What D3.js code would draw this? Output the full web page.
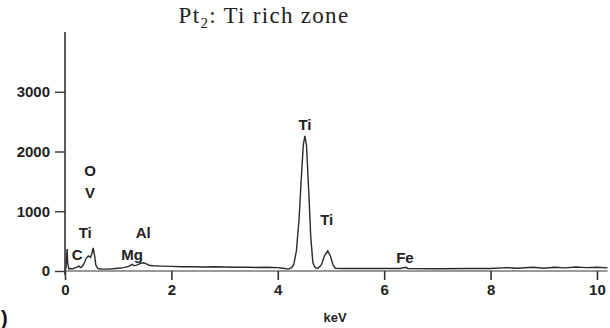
<!DOCTYPE html>
<html>
<head>
<meta charset="utf-8">
<script src="https://cdn.jsdelivr.net/npm/d3@7"></script>
<style>
  body { margin: 0; background: #fff; }
  svg { display: block; }
  .tick text { font-family: "Liberation Sans", Arial, sans-serif; font-weight: bold; font-size: 15px; fill: #222; }
  .elem { font-family: "Liberation Sans", Arial, sans-serif; font-weight: bold; font-size: 15px; fill: #222; }
</style>
</head>
<body>
<div id="chart"></div>
<script>
// EDS spectrum, energy (keV) vs counts
const energy = [0, 0.02, 0.04, 0.05, 0.07, 0.1, 0.14, 0.18, 0.22, 0.26, 0.29, 0.32, 0.36, 0.4, 0.44, 0.48, 0.5, 0.53, 0.56, 0.58, 0.62, 0.7, 0.8, 0.9, 1.0, 1.1, 1.2, 1.26, 1.3, 1.36, 1.42, 1.48, 1.52, 1.58, 1.66, 1.8, 2.0, 2.2, 2.4, 2.6, 2.8, 3.0, 3.2, 3.4, 3.6, 3.8, 4.0, 4.1, 4.2, 4.26, 4.3, 4.35, 4.4, 4.44, 4.48, 4.51, 4.54, 4.58, 4.62, 4.66, 4.7, 4.76, 4.82, 4.88, 4.94, 4.99, 5.04, 5.08, 5.2, 5.6, 6.0, 6.3, 6.4, 6.45, 7.0, 7.6, 8.0, 8.3, 8.5, 8.8, 9.0, 9.2, 9.4, 9.6, 9.8, 10.0, 10.2];
const counts = [0, 40, 350, 120, 20, 25, 20, 35, 45, 70, 40, 55, 110, 200, 235, 210, 260, 370, 220, 80, 25, 15, 15, 20, 30, 40, 60, 95, 70, 85, 110, 120, 105, 80, 70, 65, 60, 55, 55, 50, 55, 50, 45, 48, 42, 45, 40, 30, 15, 40, 90, 320, 850, 1500, 2100, 2245, 2080, 1350, 550, 120, 40, 30, 90, 240, 320, 230, 80, 30, 25, 25, 25, 25, 45, 25, 22, 25, 25, 40, 30, 45, 30, 45, 35, 50, 40, 45, 35];
const spectrum = energy.map((e, i) => ({ e: e, c: counts[i] }));

const xTicks = [0, 2, 4, 6, 8, 10];
const yTicks = [0, 1000, 2000, 3000];

// element annotations (keV, counts)
const elemNames = ["O", "V", "Ti", "C", "Al", "Mg", "Ti", "Ti", "Fe"];
const elemKeV = [0.47, 0.47, 0.38, 0.23, 1.47, 1.26, 4.51, 4.92, 6.39];
const elemCounts = [1690, 1320, 640, 270, 640, 270, 2450, 855, 220];

const width = 610, height = 328;
const svg = d3.select("#chart").append("svg")
  .attr("width", width)
  .attr("height", height);

const x = d3.scaleLinear().domain([0, 10.2]).range([65, 607.6]);
const y = d3.scaleLinear().domain([0, 4000]).range([271, 32]);

// title
const title = svg.append("text")
  .attr("x", 264)
  .attr("y", 23)
  .attr("text-anchor", "middle")
  .style("font-family", "'Liberation Serif', 'Times New Roman', serif")
  .style("font-size", "23px")
  .style("letter-spacing", "1.3px")
  .style("fill", "#222");
title.append("tspan").text("Pt");
title.append("tspan").attr("dy", 5).style("font-size", "15px").text("2");
title.append("tspan").attr("dy", -5).text(": Ti rich zone");

// zero baseline
svg.append("line")
  .attr("x1", x(0)).attr("x2", x(10.2))
  .attr("y1", y(0)).attr("y2", y(0))
  .attr("stroke", "#9a9a9a")
  .attr("stroke-width", 2);

// spectrum
const line = d3.line()
  .x(d => x(d.e))
  .y(d => y(d.c) - 1);

svg.append("path")
  .datum(spectrum)
  .attr("d", line)
  .attr("fill", "none")
  .attr("stroke", "#2a2a2a")
  .attr("stroke-width", 1.4);

// y axis
const yAxis = svg.append("g")
  .attr("transform", "translate(" + x(0) + ",0)")
  .call(d3.axisLeft(y).tickValues(yTicks).tickSize(10).tickPadding(5).tickFormat(d3.format("d")));
yAxis.select(".domain").attr("d", "M0," + y(4000) + "V" + (y(0) + 4)).attr("stroke", "#333").attr("stroke-width", 1.6);
yAxis.selectAll(".tick line").attr("stroke", "#333").attr("stroke-width", 1.4);

// x axis
const xAxis = svg.append("g")
  .attr("transform", "translate(0," + y(0) + ")")
  .call(d3.axisBottom(x).tickValues(xTicks).tickSize(9).tickPadding(4).tickFormat(d3.format("d")));
xAxis.select(".domain").remove();
xAxis.selectAll(".tick line").attr("stroke", "#333").attr("stroke-width", 1.6);

svg.append("text")
  .attr("x", 335)
  .attr("y", 322)
  .attr("text-anchor", "middle")
  .style("font-family", "'Liberation Sans', Arial, sans-serif")
  .style("font-weight", "bold")
  .style("font-size", "13px")
  .style("fill", "#222")
  .text("keV");

// element labels
svg.selectAll(".elem")
  .data(elemNames)
  .enter()
  .append("text")
  .attr("class", "elem")
  .attr("x", (d, i) => x(elemKeV[i]))
  .attr("y", (d, i) => y(elemCounts[i]))
  .attr("text-anchor", "middle")
  .attr("dominant-baseline", "central")
  .text(d => d);

// panel letter (only the closing bracket is visible in the figure)
svg.append("text")
  .attr("x", 1)
  .attr("y", 325)
  .style("font-family", "'Liberation Sans', Arial, sans-serif")
  .style("font-weight", "bold")
  .style("font-size", "20px")
  .style("fill", "#111")
  .text(")");
</script>
</body>
</html>
